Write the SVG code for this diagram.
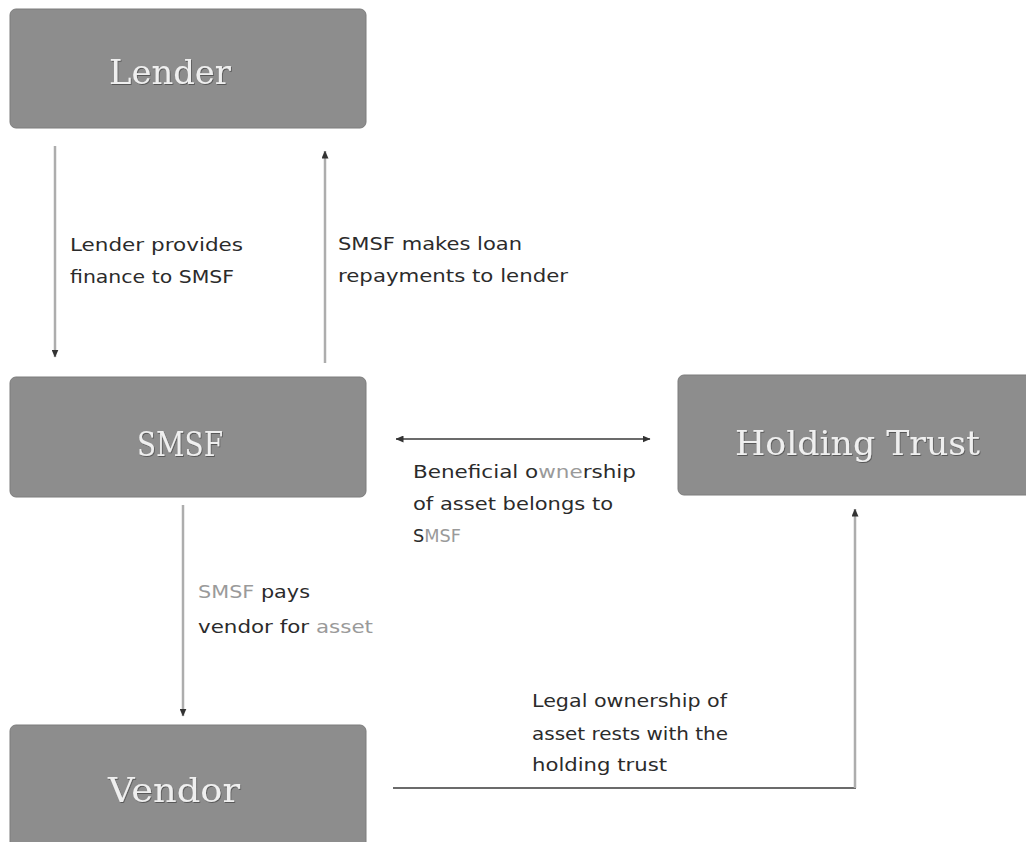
<svg xmlns="http://www.w3.org/2000/svg" width="1026" height="842" viewBox="0 0 1026 842">
  <defs>
    <style>
      .box { fill: #8d8d8d; stroke: #7c7c7c; stroke-width: 1; }
      .btxt { font-family: "DejaVu Serif", "Liberation Serif", serif; font-size: 33px; fill: #efefef; filter: url(#shadow); }
      .lbl { font-family: "DejaVu Sans", "Liberation Sans", sans-serif; font-size: 18px; fill: #2b2b2b; }
      .lt { fill: #9a9a9a; }
      .vline { fill: none; stroke: #adadad; stroke-width: 2.5; }
      .hline { fill: none; stroke: #3a3a3a; stroke-width: 1.6; }
    </style>
    <filter id="shadow" x="-10%" y="-20%" width="120%" height="150%">
      <feDropShadow dx="0.8" dy="1" stdDeviation="0.6" flood-color="#4a4a4a" flood-opacity="0.8"/>
    </filter>
    <marker id="ah" viewBox="0 0 8 7" refX="7.5" refY="3.5" markerWidth="8" markerHeight="7" markerUnits="userSpaceOnUse" orient="auto-start-reverse">
      <path d="M0,0 L8,3.5 L0,7 z" fill="#333"/>
    </marker>
  </defs>
  <rect width="1026" height="842" fill="#ffffff"/>

  <g id="lender">
    <rect class="box" x="10" y="9" width="356" height="119" rx="6"/>
    <text class="btxt" x="109" y="84" textLength="122" lengthAdjust="spacingAndGlyphs">Lender</text>
  </g>
  <g id="smsf">
    <rect class="box" x="10" y="377" width="356" height="120" rx="6"/>
    <text class="btxt" x="137" y="456" textLength="86" lengthAdjust="spacingAndGlyphs">SMSF</text>
  </g>
  <g id="holding-trust">
    <rect class="box" x="678" y="375" width="360" height="120" rx="6"/>
    <text class="btxt" x="735" y="455" textLength="245" lengthAdjust="spacingAndGlyphs">Holding Trust</text>
  </g>
  <g id="vendor">
    <rect class="box" x="10" y="725" width="356" height="125" rx="6"/>
    <text class="btxt" x="108" y="802" textLength="132" lengthAdjust="spacingAndGlyphs">Vendor</text>
  </g>

  <g id="connectors">
    <path class="vline" d="M55,146 L55,357" marker-end="url(#ah)"/>
    <path class="vline" d="M325,363 L325,151" marker-end="url(#ah)"/>
    <path class="hline" d="M396,439 L650,439" marker-start="url(#ah)" marker-end="url(#ah)"/>
    <path class="vline" d="M183,505 L183,716" marker-end="url(#ah)"/>
    <path class="hline" d="M393,788 L856,788"/>
    <path class="vline" d="M855,788 L855,509" marker-end="url(#ah)"/>
  </g>

  <g id="labels">
    <text class="lbl" x="70" y="251" textLength="173" lengthAdjust="spacingAndGlyphs">Lender provides</text>
    <text class="lbl" x="70" y="283" textLength="164" lengthAdjust="spacingAndGlyphs">finance to SMSF</text>
    <text class="lbl" x="338" y="250" textLength="184" lengthAdjust="spacingAndGlyphs">SMSF makes loan</text>
    <text class="lbl" x="338" y="282" textLength="230" lengthAdjust="spacingAndGlyphs">repayments to lender</text>
    <text class="lbl" x="413" y="478" textLength="223" lengthAdjust="spacingAndGlyphs">Beneficial o<tspan class="lt">wne</tspan>rship</text>
    <text class="lbl" x="413" y="510" textLength="200" lengthAdjust="spacingAndGlyphs">of asset belongs to</text>
    <text class="lbl" x="413" y="542" textLength="48" lengthAdjust="spacingAndGlyphs">S<tspan class="lt">MSF</tspan></text>
    <text class="lbl" x="198" y="598" textLength="112" lengthAdjust="spacingAndGlyphs"><tspan class="lt">SMSF</tspan> pays</text>
    <text class="lbl" x="198" y="633" textLength="175" lengthAdjust="spacingAndGlyphs">vendor for <tspan class="lt">asset</tspan></text>
    <text class="lbl" x="532" y="707" textLength="195" lengthAdjust="spacingAndGlyphs">Legal ownership of</text>
    <text class="lbl" x="532" y="740" textLength="196" lengthAdjust="spacingAndGlyphs">asset rests with the</text>
    <text class="lbl" x="532" y="771" textLength="135" lengthAdjust="spacingAndGlyphs">holding trust</text>
  </g>
</svg>
